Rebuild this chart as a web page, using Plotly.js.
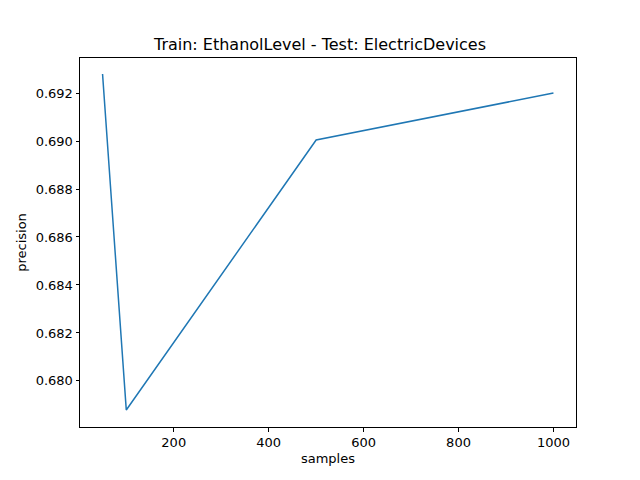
<!DOCTYPE html>
<html>
<head>
<script src="https://cdn.plot.ly/plotly-3.0.1.min.js"></script>
<style>body{margin:0}</style>
</head>
<body>
<div id="plot" style="width:640px;height:480px"></div>
<script>
var samples = [50, 100, 500, 1000];
var precision = [0.69279, 0.67879, 0.69004, 0.6920];

var font = {family: "DejaVu Sans", size: 13, color: "#000"};
var axisStyle = {
  showgrid: false, zeroline: false, showline: true, mirror: true,
  linecolor: "#000", linewidth: 1, ticks: "outside", ticklen: 3.5,
  tickcolor: "#000", tickfont: font
};

Plotly.newPlot("plot", [{
  x: samples, y: precision, mode: "lines", type: "scatter",
  line: {color: "#1f77b4", width: 1.5}
}], {
  width: 640, height: 480,
  margin: {l: 80, r: 64, t: 58, b: 53},
  paper_bgcolor: "#fff", plot_bgcolor: "#fff",
  showlegend: false,
  title: {text: "Train: EthanolLevel - Test: ElectricDevices", font: {family: "DejaVu Sans", size: 16, color: "#000"}, x: 0.5, xanchor: "center", y: 0.895, yanchor: "bottom"},
  xaxis: Object.assign({}, axisStyle, {range: [2.5, 1047.5], tickvals: [200, 400, 600, 800, 1000],
    title: {text: "samples", font: font, standoff: 4}}),
  yaxis: Object.assign({}, axisStyle, {range: [0.67808, 0.69346], dtick: 0.002, tickformat: ".3f",
    title: {text: "precision", font: font, standoff: 6}})
}, {staticPlot: true});
</script>
</body>
</html>
